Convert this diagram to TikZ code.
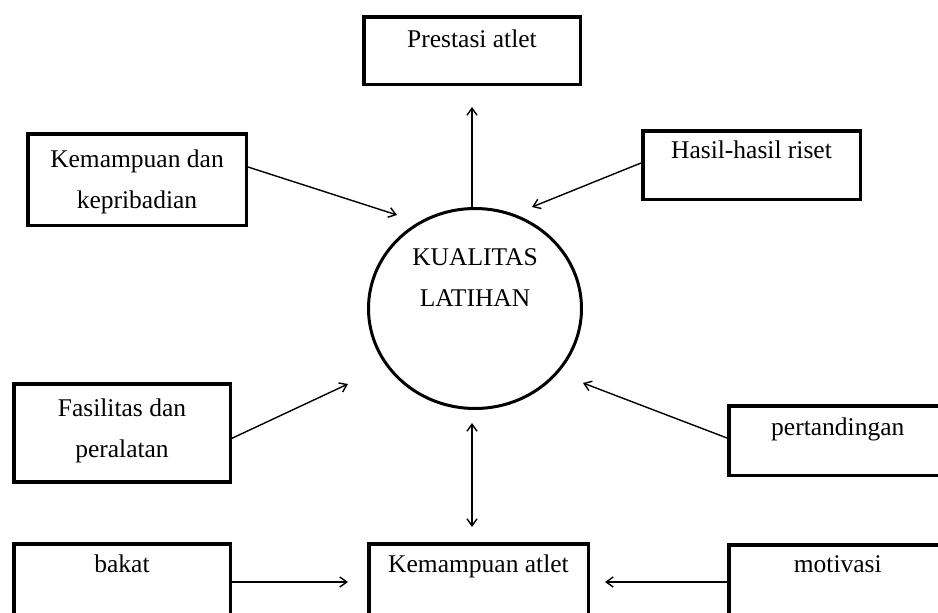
\documentclass[tikz,border=0pt]{standalone}
\usepackage{fontspec}
\setmainfont{Liberation Serif}
\usetikzlibrary{arrows.meta,shapes.geometric}
\begin{document}
\begin{tikzpicture}[x=1pt,y=-1pt,
  box/.style={draw, line width=3.5pt, rectangle, anchor=north west, inner sep=0pt},
  txt/.style={font=\fontsize{25.5}{41}\selectfont, inner sep=0pt, align=center},
  arr/.style={line width=1.4pt, -{Straight Barb[length=7pt,width=10pt]}},
  darr/.style={line width=1.4pt, {Straight Barb[length=7pt,width=10pt]}-{Straight Barb[length=7pt,width=10pt]}}]
\useasboundingbox (0,0) rectangle (938,613);
\fill[white] (0,0) rectangle (938,613);
\clip (0,0) rectangle (938,613);

% boxes
\node[box, minimum width=216.5pt, minimum height=67.5pt] (pa) at (362,15) {};
\node[box, minimum width=218.5pt, minimum height=91.5pt] (kk) at (26,132) {};
\node[box, minimum width=217.5pt, minimum height=68.5pt] (hr) at (641,129) {};
\node[box, minimum width=216.5pt, minimum height=98pt] (fp) at (12,382) {};
\node[box, minimum width=218pt, minimum height=69.5pt] (pt) at (727,404) {};
\node[box, minimum width=216.5pt, minimum height=90pt] (bk) at (12,542) {};
\node[box, minimum width=219.5pt, minimum height=90pt] (ka) at (367,542) {};
\node[box, minimum width=218pt, minimum height=90pt] (mv) at (727,543) {};
\node[draw, ellipse, line width=3pt, minimum width=213pt, minimum height=200pt, inner sep=0pt] (circ) at (475,308.5) {};

% texts
\node[txt, anchor=base] (tpa) at ([yshift=-32pt]pa.north) {Prestasi atlet};
\node[txt, anchor=north] (tkk) at ([yshift=-17.6pt]kk.north) {Kemampuan dan\\kepribadian};
\node[txt, anchor=base] (thr) at ([yshift=-29pt]hr.north) {Hasil-hasil riset};
\node[txt, anchor=north] (tfp) at ([yshift=-16.6pt]fp.north) {Fasilitas dan\\peralatan};
\node[txt, anchor=base] (tpt) at ([yshift=-31pt]pt.north) {pertandingan};
\node[txt, anchor=base] (tmv) at ([yshift=-29pt]mv.north) {motivasi};
\node[txt, anchor=base] (tbk) at ([yshift=-30pt]bk.north) {bakat};
\node[txt, anchor=base] (tka) at ([yshift=-30pt]ka.north) {Kemampuan atlet};
\node[txt, anchor=north] (tkl) at (475,248) {KUALITAS\\LATIHAN};

% free arrow ends
\coordinate (tup) at (472,107);
\coordinate (t1) at (397,215);
\coordinate (t2) at (532,207);
\coordinate (t3) at (348,384);
\coordinate (t4) at (583,383);
\coordinate (t5) at (348,582);
\coordinate (t6) at (605,582);
\coordinate (d1) at (472,423);
\coordinate (d2) at (472,527);

% connectors
\draw[arr] (circ.north -| tup) -- (tup);
\draw[arr] ([yshift=12.5pt]kk.east) -- (t1);
\draw[arr] ([yshift=2pt]hr.west) -- (t2);
\draw[arr] ([yshift=-5.5pt]fp.east) -- (t3);
\draw[arr] ([yshift=2.5pt]pt.west) -- (t4);
\draw[arr] ([yshift=-40pt]bk.north east) -- (t5);
\draw[arr] ([yshift=-39pt]mv.north west) -- (t6);
\draw[darr] (d1) -- (d2);
\end{tikzpicture}
\end{document}
